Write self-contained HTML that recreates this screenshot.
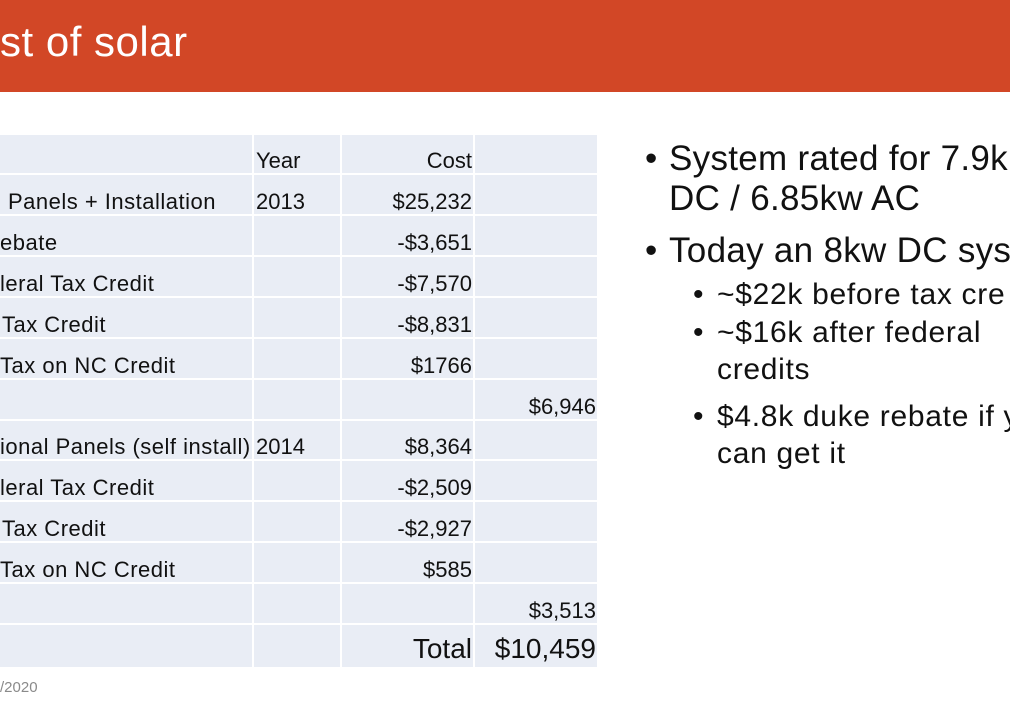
<!DOCTYPE html>
<html>
<head>
<meta charset="utf-8">
<style>
  html, body { margin:0; padding:0; }
  body { width:1010px; height:720px; overflow:hidden; position:relative; background:#fff;
         font-family:"Liberation Sans", "DejaVu Sans", sans-serif; color:#111; }
  .clip { position:absolute; overflow:hidden; }
  .abs { position:absolute; white-space:nowrap; }
  .hdr { position:absolute; left:0; top:0; width:1010px; height:92px; background:#D24726; }
  .title { position:absolute; left:0; top:21px; font-size:42px; line-height:42px; color:#fff; letter-spacing:0.5px; white-space:nowrap; }
  .tbl { position:absolute; left:0; top:0; width:597px; height:532px; background:#E9EDF5; }
  .vl { position:absolute; top:0; width:2px; height:532px; background:#fff; }
  .hl { position:absolute; left:0; width:597px; height:2px; background:#fff; }
  .t { position:absolute; font-size:22px; line-height:22px; white-space:nowrap; color:#111; }
  .c1 { text-align:right; letter-spacing:0.5px; }
  .l1 { position:absolute; font-size:35px; line-height:35px; white-space:nowrap; letter-spacing:0.3px; color:#111; }
  .l2 { position:absolute; font-size:30px; line-height:30px; white-space:nowrap; letter-spacing:0.7px; color:#111; }
</style>
</head>
<body>
  <div class="hdr"></div>
  <div class="title">st of solar</div>

  <!-- table, clipped to its own box; coordinates relative to (0,135) -->
  <div class="clip" style="left:0; top:135px; width:597px; height:532px;">
    <div class="tbl"></div>
    <div class="vl" style="left:252px"></div>
    <div class="vl" style="left:340px"></div>
    <div class="vl" style="left:473px"></div>
    <div class="hl" style="top:38px"></div>
    <div class="hl" style="top:79px"></div>
    <div class="hl" style="top:120px"></div>
    <div class="hl" style="top:161px"></div>
    <div class="hl" style="top:202px"></div>
    <div class="hl" style="top:243px"></div>
    <div class="hl" style="top:284px"></div>
    <div class="hl" style="top:324px"></div>
    <div class="hl" style="top:365px"></div>
    <div class="hl" style="top:406px"></div>
    <div class="hl" style="top:447px"></div>
    <div class="hl" style="top:488px"></div>

    <!-- header row -->
    <div class="t" style="left:256px; top:15px">Year</div>
    <div class="t" style="left:372px; width:100px; text-align:right; top:15px">Cost</div>

    <!-- row 1 -->
    <div class="t c1" style="left:0; width:216px; top:56px">Panels + Installation</div>
    <div class="t" style="left:256px; top:56px">2013</div>
    <div class="t" style="left:372px; width:100px; text-align:right; top:56px">$25,232</div>

    <!-- row 2 -->
    <div class="t c1" style="left:0; width:52px; top:97px">ebate</div>
    <div class="t" style="left:372px; width:100px; text-align:right; top:97px">-$3,651</div>

    <!-- row 3 -->
    <div class="t c1" style="left:0; width:150px; top:138px">leral Tax Credit</div>
    <div class="t" style="left:372px; width:100px; text-align:right; top:138px">-$7,570</div>

    <!-- row 4 -->
    <div class="t c1" style="left:0; width:106px; top:179px">Tax Credit</div>
    <div class="t" style="left:372px; width:100px; text-align:right; top:179px">-$8,831</div>

    <!-- row 5 -->
    <div class="t c1" style="left:0; width:173px; top:220px">Tax on NC Credit</div>
    <div class="t" style="left:372px; width:100px; text-align:right; top:220px">$1766</div>

    <!-- row 6 -->
    <div class="t" style="left:476px; width:120px; text-align:right; top:261px">$6,946</div>

    <!-- row 7 -->
    <div class="t c1" style="left:0; width:250px; top:301px">ional Panels (self install)</div>
    <div class="t" style="left:256px; top:301px">2014</div>
    <div class="t" style="left:372px; width:100px; text-align:right; top:301px">$8,364</div>

    <!-- row 8 -->
    <div class="t c1" style="left:0; width:150px; top:342px">leral Tax Credit</div>
    <div class="t" style="left:372px; width:100px; text-align:right; top:342px">-$2,509</div>

    <!-- row 9 -->
    <div class="t c1" style="left:0; width:106px; top:383px">Tax Credit</div>
    <div class="t" style="left:372px; width:100px; text-align:right; top:383px">-$2,927</div>

    <!-- row 10 -->
    <div class="t c1" style="left:0; width:173px; top:424px">Tax on NC Credit</div>
    <div class="t" style="left:372px; width:100px; text-align:right; top:424px">$585</div>

    <!-- row 11 -->
    <div class="t" style="left:476px; width:120px; text-align:right; top:465px">$3,513</div>

    <!-- total row -->
    <div class="t" style="left:352px; width:120px; text-align:right; top:500px; font-size:28px; line-height:28px">Total</div>
    <div class="t" style="left:476px; width:120px; text-align:right; top:500px; font-size:28px; line-height:28px">$10,459</div>
  </div>

  <!-- footer -->
  <div class="abs" style="left:0; width:37px; text-align:right; top:680px; font-size:15px; line-height:15px; color:#8a8a8a">/2020</div>

  <!-- right-hand bullets, clipped at frame edge; coords relative to (620,0) -->
  <div class="clip" style="left:620px; top:0; width:390px; height:720px;">
    <div class="l1" style="left:25px; top:141px">•</div>
    <div class="l1" style="left:49px; top:141px">System rated for 7.9k</div>
    <div class="l1" style="left:49px; top:181px">DC / 6.85kw AC</div>
    <div class="l1" style="left:25px; top:233px">•</div>
    <div class="l1" style="left:49px; top:233px">Today an 8kw DC sys</div>

    <div class="l2" style="left:73px; top:280px">•</div>
    <div class="l2" style="left:97px; top:280px">~$22k before tax cre</div>
    <div class="l2" style="left:73px; top:318px">•</div>
    <div class="l2" style="left:97px; top:318px">~$16k after federal</div>
    <div class="l2" style="left:97px; top:355px">credits</div>
    <div class="l2" style="left:73px; top:402px">•</div>
    <div class="l2" style="left:97px; top:402px">$4.8k duke rebate if y</div>
    <div class="l2" style="left:97px; top:439px">can get it</div>
  </div>
</body>
</html>
